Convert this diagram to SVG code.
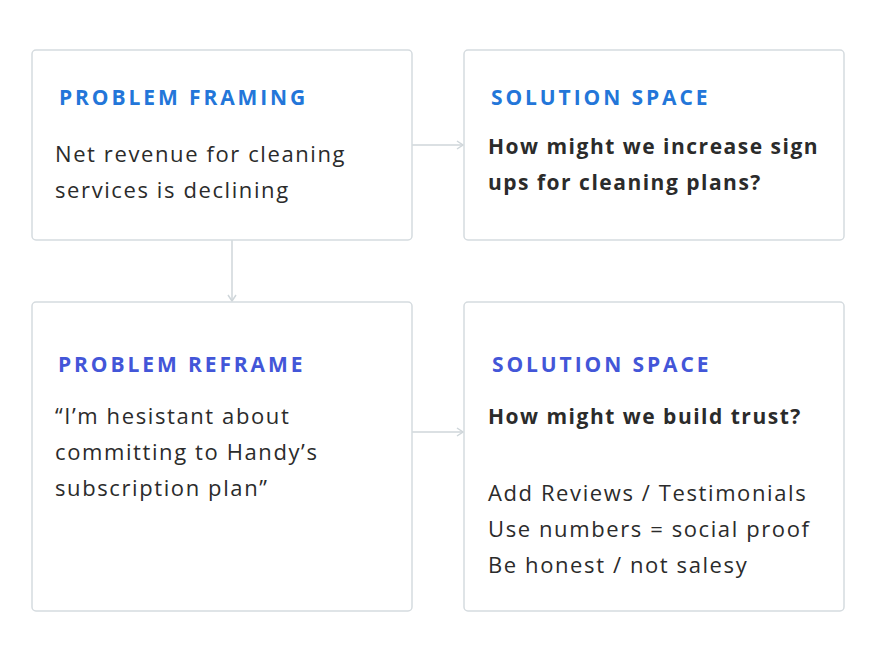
<svg xmlns="http://www.w3.org/2000/svg" width="876" height="661" viewBox="0 0 876 661">
<style>
.box{fill:#ffffff;stroke:#d5dbdf;stroke-width:1.5}
.h{font-family:"Open Sans","Liberation Sans",sans-serif;font-weight:700;font-size:21px;letter-spacing:2.9px}
.h1{fill:#2376d9}
.h2{fill:#4356d8}
.t{font-family:"Open Sans","Liberation Sans",sans-serif;font-size:22px;fill:#2b2b2b;letter-spacing:1.6px}
.b{font-family:"Open Sans","Liberation Sans",sans-serif;font-size:21px;font-weight:700;fill:#2b2b2b;letter-spacing:1.5px}
.c{stroke:#cfd6da;stroke-width:1.5;fill:none}
</style>
<defs>
<marker id="arr" viewBox="0 0 10 10" refX="9" refY="5" markerWidth="10" markerHeight="10" markerUnits="userSpaceOnUse" orient="auto">
<path d="M3,1 L9,5 L3,9" fill="none" stroke="#cfd6da" stroke-width="1.5"/>
</marker>
</defs>
<rect width="876" height="661" fill="#ffffff"/>
<g id="connectors">
<line class="c" x1="412" y1="145" x2="463" y2="145" marker-end="url(#arr)"/>
<line class="c" x1="232" y1="240" x2="232" y2="301" marker-end="url(#arr)"/>
<line class="c" x1="412" y1="432" x2="463" y2="432" marker-end="url(#arr)"/>
</g>
<g id="problem-framing">
<rect class="box" x="32" y="50" width="380" height="190" rx="4"/>
<text class="h h1" x="59" y="105">PROBLEM FRAMING</text>
<text class="t" x="55" y="162">Net revenue for cleaning</text>
<text class="t" x="55" y="198">services is declining</text>
</g>
<g id="solution-space-1">
<rect class="box" x="464" y="50" width="380" height="190" rx="4"/>
<text class="h h1" x="491" y="105">SOLUTION SPACE</text>
<text class="b" x="488" y="154">How might we increase sign</text>
<text class="b" x="488" y="190">ups for cleaning plans?</text>
</g>
<g id="problem-reframe">
<rect class="box" x="32" y="302" width="380" height="309" rx="4"/>
<text class="h h2" x="58" y="372">PROBLEM REFRAME</text>
<text class="t" x="55" y="424">“I’m hesistant about</text>
<text class="t" x="55" y="460">committing to Handy’s</text>
<text class="t" x="55" y="496">subscription plan”</text>
</g>
<g id="solution-space-2">
<rect class="box" x="464" y="302" width="380" height="309" rx="4"/>
<text class="h h2" x="492" y="372">SOLUTION SPACE</text>
<text class="b" x="488" y="424">How might we build trust?</text>
<text class="t" x="488" y="501">Add Reviews / Testimonials</text>
<text class="t" x="488" y="537">Use numbers = social proof</text>
<text class="t" x="488" y="573">Be honest / not salesy</text>
</g>
</svg>
